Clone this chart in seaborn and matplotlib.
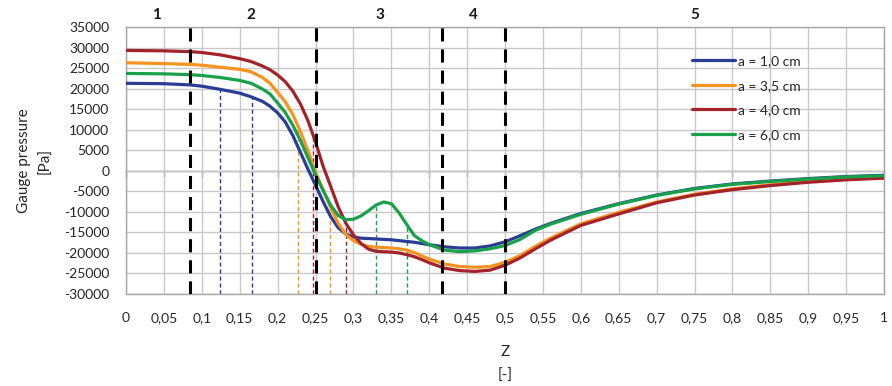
import numpy as np
import pandas as pd
import matplotlib
matplotlib.use('Agg')
import matplotlib.pyplot as plt
import seaborn as sns

# Z positions (shared by all curves)
z = [0, 0.05, 0.085, 0.1, 0.125, 0.15, 0.165, 0.18, 0.19, 0.2,
     0.21, 0.22, 0.23, 0.24, 0.25, 0.26, 0.27, 0.28, 0.29, 0.3,
     0.31, 0.32, 0.33, 0.34, 0.35, 0.36, 0.37, 0.38, 0.39, 0.4,
     0.42, 0.44, 0.46, 0.48, 0.5, 0.52, 0.54, 0.56, 0.6, 0.65,
     0.7, 0.75, 0.8, 0.85, 0.9, 0.95, 1.0]

# gauge pressure [Pa] for each gap a
p_a10 = [21300, 21200, 20900, 20600, 19800, 18900, 18000, 16900, 15700, 14100,
         11900, 8600, 4500, 400, -3500, -7500, -11200, -13900, -15400, -16100,
         -16400, -16500, -16600, -16700, -16800, -17000, -17200, -17400, -17700, -18000,
         -18500, -18800, -18800, -18300, -17300, -15800, -14200, -12800, -10400, -8000,
         -5900, -4300, -3200, -2500, -1900, -1400, -1100]
p_a35 = [26300, 26100, 25900, 25700, 25200, 24700, 24100, 22700, 21300, 19100,
         16800, 13700, 9600, 4900, -300, -4600, -9000, -12800, -15500, -17000,
         -17900, -18400, -18600, -18700, -18800, -19000, -19300, -19900, -20700, -21500,
         -22700, -23300, -23500, -23300, -22300, -20600, -18400, -16400, -12900, -10100,
         -7600, -5700, -4400, -3400, -2600, -2000, -1600]
p_a40 = [29300, 29200, 29000, 28800, 28200, 27300, 26600, 25500, 24600, 23300,
         21700, 19400, 16300, 12200, 7000, 1100, -3800, -8800, -12800, -15600,
         -17700, -19100, -19600, -19700, -19800, -20000, -20400, -20900, -21600, -22400,
         -23700, -24300, -24500, -24200, -23000, -21200, -19000, -16900, -13300, -10500,
         -7800, -5900, -4600, -3600, -2800, -2200, -1800]
p_a60 = [23700, 23600, 23400, 23200, 22700, 22000, 21300, 19900, 18700, 16500,
         14200, 11100, 7400, 3200, -1000, -4800, -8400, -10900, -11900, -11800,
         -11000, -9700, -8300, -7600, -8000, -10200, -13000, -15700, -17000, -18000,
         -19300, -19700, -19500, -19000, -18200, -16700, -14500, -13000, -10600, -8100,
         -6000, -4400, -3300, -2600, -2000, -1500, -1200]

labels = ['a = 1,0 cm', 'a = 3,5 cm', 'a = 4,0 cm', 'a = 6,0 cm']
colors = ['#2a3d96', '#f7931e', '#a3232b', '#17a14a']

# characteristic points of each curve (thin dashed drop lines)
mark_z = {'a = 1,0 cm': [0.124, 0.166], 'a = 3,5 cm': [0.227, 0.269],
          'a = 4,0 cm': [0.247, 0.29], 'a = 6,0 cm': [0.33, 0.37]}

# region borders and region numbers
region_bounds = [0.085, 0.25, 0.417, 0.5]
region_names = ['1', '2', '3', '4', '5']
region_pos = [0.04, 0.165, 0.335, 0.458, 0.75]

series = [p_a10, p_a35, p_a40, p_a60]
df = pd.DataFrame({
    'z': z * 4,
    'p': sum(series, []),
    'a': sum([[lab] * len(z) for lab in labels], []),
})

sns.set_theme(style='white')
plt.rcParams['font.family'] = ['Lato', 'DejaVu Sans']

fig = plt.figure(figsize=(8.92, 3.86), dpi=100)
ax = fig.add_axes([0.1413, 0.2383, 0.8498, 0.6917])

ymin, ymax = -30000, 35000
ax.set_xlim(0, 1)
ax.set_ylim(ymin, ymax)

# grid
ax.set_axisbelow(True)
ax.grid(True, color='#c8c8c8', lw=1.0)

# drop lines from the curves
for lab, ser, col in zip(labels, series, colors):
    for zm in mark_z[lab]:
        top = np.interp(zm, z, ser)
        ax.vlines(zm, ymin, top, colors=col, lw=1.0, linestyles=(0, (3, 2)), zorder=2)

sns.lineplot(data=df, x='z', y='p', hue='a', hue_order=labels, palette=colors,
             lw=2.3, ax=ax, zorder=3, estimator=None, sort=False)

# region borders
ax.vlines(region_bounds, ymin, ymax, colors='black', lw=2.2,
          linestyles=(0, (4.3, 2.6)), zorder=4)

trans = matplotlib.transforms.blended_transform_factory(ax.transData, ax.transAxes)
for name, pos in zip(region_names, region_pos):
    ax.text(pos, 1.045, name, transform=trans, ha='center', va='center',
            fontsize=11, fontweight='bold', color='#1a1a1a')

# ticks
xt = np.round(np.arange(0, 1.0001, 0.05), 2)
ax.set_xticks(xt)
ax.set_xticklabels([('%g' % v).replace('.', ',') for v in xt])
ax.set_yticks(np.arange(ymin, ymax + 1, 5000))
ax.set_yticklabels(['%d' % v for v in np.arange(ymin, ymax + 1, 5000)])
ax.tick_params(axis='both', length=0, labelsize=10, colors='#262626')
ax.tick_params(axis='x', pad=13)
ax.tick_params(axis='y', pad=12)

# axis line at zero with small tick marks
zero_pos = (0 - ymin) / (ymax - ymin)
sec = ax.secondary_xaxis(zero_pos)
sec.set_xticks(xt)
sec.set_xticklabels([])
sec.tick_params(axis='x', direction='out', length=4, color='#8c8c8c', width=1)
sec.spines['bottom'].set_color('#8c8c8c')
sec.spines['bottom'].set_linewidth(1.0)

for s in ax.spines.values():
    s.set_color('#a6a6a6')
    s.set_linewidth(1.0)

ax.set_xlabel('Z\n[-]', fontsize=11, color='#262626', linespacing=1.9, labelpad=15)
ax.set_ylabel('Gauge pressure\n[Pa]', fontsize=11, color='#262626', linespacing=1.7, labelpad=8)

handles, labs = ax.get_legend_handles_labels()
ax.legend(handles, labs, loc='upper left', bbox_to_anchor=(0.739, 0.915),
          frameon=False, fontsize=10, handlelength=3.1, handletextpad=0.25,
          labelspacing=0.9, borderaxespad=0)

fig.savefig('out.png', dpi=100)
